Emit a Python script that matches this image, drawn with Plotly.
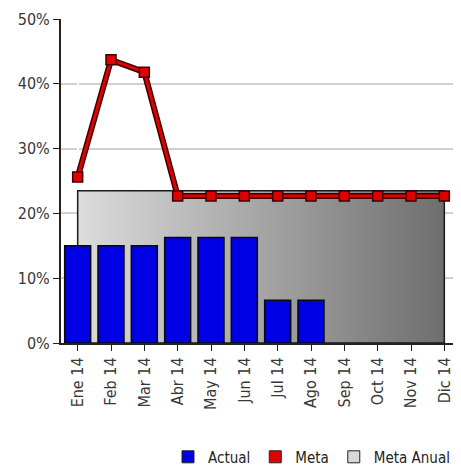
import plotly.graph_objects as go

months = ["Ene 14", "Feb 14", "Mar 14", "Abr 14", "May 14", "Jun 14",
          "Jul 14", "Ago 14", "Sep 14", "Oct 14", "Nov 14", "Dic 14"]
actual = [15.0, 15.0, 15.0, 16.3, 16.3, 16.3, 6.6, 6.6, None, None, None, None]
meta = [25.6, 43.7, 41.8, 22.7, 22.7, 22.7, 22.7, 22.7, 22.7, 22.7, 22.7, 22.7]
meta_anual = 23.5
y_ticks = [0, 10, 20, 30, 40, 50]
y_tick_labels = ["0%", "10%", "20%", "30%", "40%", "50%"]

idx = list(range(len(months)))
FONT = "DejaVu Sans Condensed"

fig = go.Figure()

# Meta Anual block (gradient box from first to last month)
fig.add_trace(go.Scatter(
    x=[idx[0], idx[0], idx[-1], idx[-1], idx[0]],
    y=[0, meta_anual, meta_anual, 0, 0],
    mode="lines", fill="toself",
    fillgradient=dict(type="horizontal",
                      colorscale=[[0, "#dcdcdc"], [1, "#6e6e6e"]]),
    line=dict(color="#1a1a1a", width=1.5),
    showlegend=False, hoverinfo="skip",
    xaxis="x", yaxis="y"))

# Actual bars on overlay axes so they sit above the block
fig.add_trace(go.Bar(
    x=idx, y=actual, width=0.78,
    marker=dict(color="#0000e4", line=dict(color="#0a0a0a", width=1.5)),
    showlegend=False, xaxis="x2", yaxis="y2"))

# Meta line: dark outline then red core
fig.add_trace(go.Scatter(
    x=idx, y=meta, mode="lines",
    line=dict(color="#3a0000", width=6),
    showlegend=False, hoverinfo="skip", xaxis="x2", yaxis="y2"))
fig.add_trace(go.Scatter(
    x=idx, y=meta, mode="lines+markers",
    line=dict(color="#e00000", width=3),
    marker=dict(symbol="square", size=10, color="#e00000",
                line=dict(color="#3a0000", width=1.5)),
    showlegend=False, xaxis="x2", yaxis="y2"))

# Legend entries (square swatches)
for name, col in [("Actual", "#0000e6"), ("Meta", "#e00000"), ("Meta Anual", "#d8d8d8")]:
    fig.add_trace(go.Scatter(
        x=[None], y=[None], mode="markers", name=name,
        marker=dict(symbol="square", size=12, color=col,
                    line=dict(color="#222222", width=1)),
        xaxis="x2", yaxis="y2"))

tickfont = dict(family=FONT, size=16, color="#383838")
xcommon = dict(range=[-0.5, 11.5], tickvals=idx, ticktext=months,
               fixedrange=True)
fig.update_layout(
    width=453, height=462,
    margin=dict(l=53, r=0, t=11, b=127, autoexpand=False),
    paper_bgcolor="white", plot_bgcolor="white",
    font=dict(family=FONT, size=16, color="#383838"),
    barmode="overlay",
    xaxis=dict(**xcommon, tickangle=-90, showgrid=False, automargin=False,
               showline=True, linecolor="#222222", linewidth=2,
               ticks="outside", ticklen=6, tickcolor="#222222",
               tickfont=tickfont),
    yaxis=dict(range=[0, 50], tickvals=y_ticks, ticktext=y_tick_labels,
               showgrid=True, gridcolor="#d0d0d0", gridwidth=1.5,
               showline=True, linecolor="#222222", linewidth=2,
               ticks="outside", ticklen=6, tickcolor="#222222",
               zeroline=False, automargin=False,
               tickfont=tickfont),
    xaxis2=dict(**xcommon, overlaying="x", visible=False),
    yaxis2=dict(range=[0, 50], overlaying="y", visible=False),
    legend=dict(orientation="h", x=0.985, xanchor="right",
                y=-0.352, yanchor="middle", yref="paper",
                font=dict(family=FONT, size=15, color="#222222"),
                itemwidth=30, tracegroupgap=0,
                bgcolor="rgba(0,0,0,0)"),
)

fig.write_html("out.html")
